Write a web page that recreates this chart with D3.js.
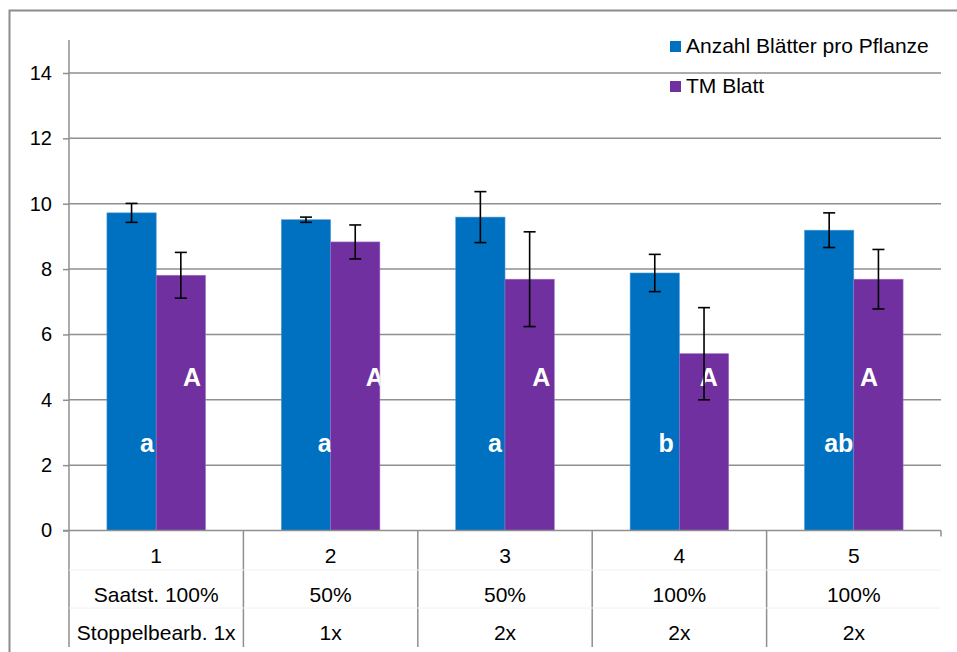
<!DOCTYPE html>
<html><head><meta charset="utf-8">
<script src="https://cdn.jsdelivr.net/npm/d3@7"></script>
<style>
html,body{margin:0;padding:0;background:#fff;}
svg{display:block;font-family:"Liberation Sans",Arial,sans-serif;}
</style></head>
<body>
<svg id="chart" width="957" height="652"></svg>
<script>
// ---- data ----
const categories = ["1", "2", "3", "4", "5"];
const row2Labels = ["Saatst. 100%", "50%", "50%", "100%", "100%"];
const row3Labels = ["Stoppelbearb. 1x", "1x", "2x", "2x", "2x"];
const seriesNames = ["Anzahl Blätter pro Pflanze", "TM Blatt"];
const blattAnzahl = [9.72, 9.51, 9.59, 7.88, 9.19];
const blattAnzahlErr = [0.29, 0.08, 0.78, 0.57, 0.53];
const tmBlatt = [7.81, 8.83, 7.69, 5.41, 7.69];
const tmBlattErr = [0.70, 0.52, 1.45, 1.41, 0.91];
const lettersLower = ["a", "a", "a", "b", "ab"];
const lettersUpper = ["A", "A", "A", "A", "A"];
const yTicks = [0, 2, 4, 6, 8, 10, 12, 14];

// label placement (not data): value-level and px offset from bar right edge
const lowerLabelLevel = 2.41, upperLabelLevel = 4.43;
const lowerLabelDx = [-9.3, -6, -10, -13.3, -15];
const upperLabelDx = [-13.5, -5, -13, -20, -34];

const colors = ["#0070C0", "#7030A0"];
const svg = d3.select("#chart");

const y = d3.scaleLinear().domain([0, 14]).range([530.5, 73]);
const x0 = d3.scaleBand().domain(categories).range([69, 941]).paddingInner(0).paddingOuter(0);
const x1 = d3.scaleBand().domain(seriesNames).range([0, x0.bandwidth()]).paddingInner(0).paddingOuter(0.77);

// outer frame
svg.append("rect").attr("x", 9.5).attr("y", 10.5).attr("width", 960).attr("height", 660)
  .attr("fill", "none").attr("stroke", "#8c8c8c").attr("stroke-width", 2);

// gridlines
svg.append("g").selectAll("line").data(yTicks.filter(d => d > 0)).join("line")
  .attr("x1", 69).attr("x2", 941).attr("y1", d => y(d)).attr("y2", d => y(d))
  .attr("stroke", "#8f8f8f").attr("stroke-width", 1.5);

// y axis
const yAxis = d3.axisLeft(y).tickValues(yTicks).tickSize(6).tickPadding(11).tickFormat(d3.format("d"));
const gy = svg.append("g").attr("transform", "translate(69,0)").call(yAxis);
gy.select(".domain").remove();
gy.selectAll(".tick line").attr("stroke", "#8f8f8f").attr("stroke-width", 1.5);
gy.selectAll(".tick text").attr("font-size", 20).attr("fill", "#000")
  .attr("font-family", "Liberation Sans, Arial, sans-serif");
svg.append("line").attr("x1", 69).attr("x2", 69).attr("y1", 40).attr("y2", 647)
  .attr("stroke", "#8f8f8f").attr("stroke-width", 1.5);

// bars with clip paths
const defs = svg.append("defs");
const seriesData = [blattAnzahl, tmBlatt];
const errData = [blattAnzahlErr, tmBlattErr];
const barsG = svg.append("g");
seriesNames.forEach((s, si) => {
  categories.forEach((c, ci) => {
    const bx = x0(c) + x1(s), bw = x1.bandwidth();
    const v = seriesData[si][ci];
    defs.append("clipPath").attr("id", `clip-${si}-${ci}`).append("rect")
      .attr("x", bx).attr("y", y(v)).attr("width", bw).attr("height", y(0) - y(v));
    barsG.append("rect").attr("x", bx).attr("y", y(v)).attr("width", bw).attr("height", y(0) - y(v))
      .attr("fill", colors[si]).attr("stroke", si === 0 ? "#4f9ad6" : "#9b6cc4").attr("stroke-width", 0.6);
  });
});

// letters (white, clipped to their bar)
const lblG = svg.append("g");
categories.forEach((c, ci) => {
  const bw = x1.bandwidth();
  const bxL = x0(c) + x1(seriesNames[0]);
  const bxU = x0(c) + x1(seriesNames[1]);
  lblG.append("text").attr("clip-path", `url(#clip-0-${ci})`)
    .attr("x", bxL + bw + lowerLabelDx[ci]).attr("y", y(lowerLabelLevel))
    .attr("text-anchor", "middle").attr("font-size", 25).attr("font-weight", "bold")
    .attr("fill", "#fff").text(lettersLower[ci]);
  lblG.append("text").attr("clip-path", `url(#clip-1-${ci})`)
    .attr("x", bxU + bw + upperLabelDx[ci]).attr("y", y(upperLabelLevel))
    .attr("text-anchor", "middle").attr("font-size", 25).attr("font-weight", "bold")
    .attr("fill", "#fff").text(lettersUpper[ci]);
});

// error bars
const errG = svg.append("g");
seriesNames.forEach((s, si) => {
  categories.forEach((c, ci) => {
    const cx = x0(c) + x1(s) + x1.bandwidth() / 2;
    const v = seriesData[si][ci], e = errData[si][ci];
    const yt = y(v + e), yb = y(v - e);
    errG.append("line").attr("x1", cx).attr("x2", cx).attr("y1", yt).attr("y2", yb);
    errG.append("line").attr("x1", cx - 6).attr("x2", cx + 6).attr("y1", yt).attr("y2", yt);
    errG.append("line").attr("x1", cx - 6).attr("x2", cx + 6).attr("y1", yb).attr("y2", yb);
  });
});
errG.selectAll("line").attr("stroke", "#000").attr("stroke-width", 1.6);

// x axis line and category table
svg.append("line").attr("x1", 63).attr("x2", 941).attr("y1", y(0)).attr("y2", y(0))
  .attr("stroke", "#8f8f8f").attr("stroke-width", 1.5);
const bounds = categories.map(c => x0(c) + x0.bandwidth()).slice(0, -1);
svg.append("g").selectAll("line").data(bounds).join("line")
  .attr("x1", d => d).attr("x2", d => d).attr("y1", y(0)).attr("y2", 647)
  .attr("stroke", "#8f8f8f").attr("stroke-width", 1.5);
svg.append("line").attr("x1", 941).attr("x2", 941).attr("y1", y(0)).attr("y2", y(0) + 6)
  .attr("stroke", "#8f8f8f").attr("stroke-width", 1.5);
// faint row separators
[570, 608].forEach(ry => {
  svg.append("line").attr("x1", 69).attr("x2", 941).attr("y1", ry).attr("y2", ry)
    .attr("stroke", "#f2f2f2").attr("stroke-width", 1);
});
const rows = [categories, row2Labels, row3Labels];
const rowY = [563, 601.5, 640];
rows.forEach((r, ri) => {
  svg.append("g").selectAll("text").data(r).join("text")
    .attr("x", (d, i) => x0(categories[i]) + x0.bandwidth() / 2).attr("y", rowY[ri])
    .attr("text-anchor", "middle").attr("font-size", 21).attr("fill", "#000").text(d => d);
});

// legend
const leg = svg.append("g");
seriesNames.forEach((s, si) => {
  const ly = [53, 93][si];
  leg.append("rect").attr("x", 670).attr("y", ly - 12).attr("width", 11).attr("height", 11).attr("fill", colors[si]);
  leg.append("text").attr("x", 686).attr("y", ly).attr("font-size", 21).attr("fill", "#000").text(s);
});
</script>
</body></html>
